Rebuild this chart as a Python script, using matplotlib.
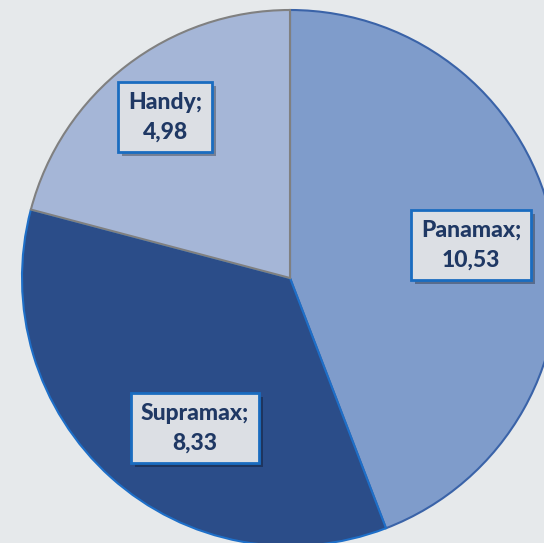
import matplotlib
matplotlib.use("Agg")
import matplotlib.pyplot as plt
import matplotlib.patheffects as pe

# data
categories = ["Panamax", "Supramax", "Handy"]
values = [10.53, 8.33, 4.98]
value_labels = ["10,53", "8,33", "4,98"]

colors = ["#7f9ccb", "#2b4d89", "#a5b6d7"]
edges = ["#3a63a8", "#1e6fc8", "#808080"]

W, H = 544, 543
CX, CY, R = 290, 278, 268  # pie centre and radius in pixels

fig = plt.figure(figsize=(W / 100, H / 100), dpi=100)
fig.patch.set_facecolor("#e6e9eb")
ax = fig.add_axes([0, 0, 1, 1])
ax.set_facecolor("#e6e9eb")

wedges, _ = ax.pie(values, colors=colors, startangle=90, counterclock=False,
                   radius=1.0, wedgeprops=dict(linewidth=1.5))
for w, ec in zip(wedges, edges):
    w.set_edgecolor(ec)

ax.set_xlim(-CX / R, (W - CX) / R)
ax.set_ylim(-(H - CY) / R, CY / R)
ax.set_axis_off()

# label box centres in pixels
label_px = [(471, 245), (195, 428), (165, 117)]

for cat, lab, (px, py) in zip(categories, value_labels, label_px):
    x = (px - CX) / R
    y = (CY - py) / R
    t = ax.text(x, y, cat + ";\n" + lab, ha="center", va="center",
                fontsize=16.5, fontweight=900, family="Lato", color="#1f3864",
                linespacing=1.5,
                bbox=dict(boxstyle="square,pad=0.42", facecolor="#dcdfe4",
                          edgecolor="#1a6cc0", linewidth=2))
    t.get_bbox_patch().set_path_effects([
        pe.SimplePatchShadow(offset=(3, -3), shadow_rgbFace="#000000", alpha=0.3),
        pe.Normal()])

fig.savefig("out.png", dpi=100, facecolor=fig.get_facecolor())
